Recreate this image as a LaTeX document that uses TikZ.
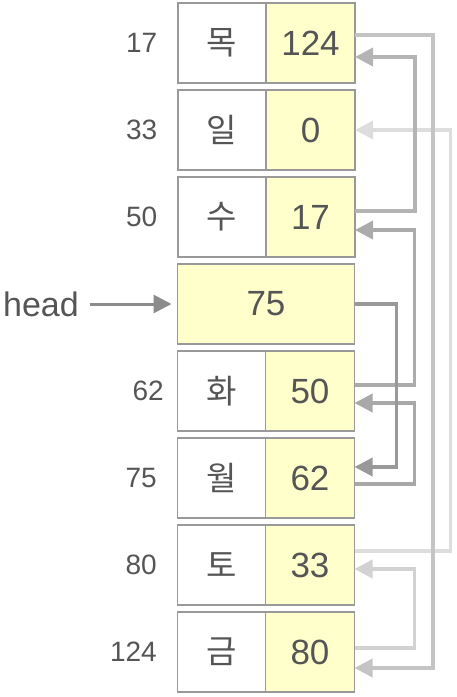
\documentclass[tikz,border=0pt]{standalone}
\usepackage{fontspec}
\setmainfont{Liberation Sans}
\newfontfamily\kofont{Noto Sans CJK KR}
\usetikzlibrary{positioning,arrows.meta}
\definecolor{boxline}{HTML}{999999}
\definecolor{valfill}{HTML}{FFFFCC}
\definecolor{txt}{HTML}{555555}
\definecolor{headgray}{HTML}{8C8C8C}
\definecolor{link1}{HTML}{999999}
\definecolor{link2}{HTML}{A8A8A8}
\definecolor{link3}{HTML}{ABABAB}
\definecolor{link4}{HTML}{B4B4B4}
\definecolor{link5}{HTML}{C4C4C4}
\definecolor{link6}{HTML}{D2D2D2}
\definecolor{link7}{HTML}{DDDDDD}

\begin{document}
\begin{tikzpicture}[
    x = 1pt, y = 1pt,
    > = {Triangle[length=18pt, width=18pt]},
    line width = 1.5pt,
    key/.style={draw=boxline, minimum width=88pt, minimum height=80pt,
        inner sep=0pt, outer sep=0pt, text=txt,
        font=\kofont\fontsize{33}{33}\selectfont},
    val/.style={key, fill=valfill, minimum width=89pt,
        font=\fontsize{35}{35}\selectfont},
    addr/.style={inner sep=0pt, text=txt, font=\fontsize{28}{28}\selectfont},
    link/.style={->, line width=3.5pt}
]
    \useasboundingbox (0,0) rectangle (456,-697);

    % memory cells
    \node[key] (k1) at (222,-43) {목};
    \node[val, right=0pt of k1] (v1) {124};
    \node[key, below=7pt of k1] (k2) {일};
    \node[val, right=0pt of k2] (v2) {0};
    \node[key, below=7pt of k2] (k3) {수};
    \node[val, right=0pt of k3] (v3) {17};
    \node[val, minimum width=177pt, below=7pt of k3.south east] (h) {75};
    \node[key, below=7pt of h.south west, anchor=north west] (k5) {화};
    \node[val, right=0pt of k5] (v5) {50};
    \node[key, below=7pt of k5] (k6) {월};
    \node[val, right=0pt of k6] (v6) {62};
    \node[key, below=7pt of k6] (k7) {토};
    \node[val, right=0pt of k7] (v7) {33};
    \node[key, below=7pt of k7] (k8) {금};
    \node[val, right=0pt of k8] (v8) {80};

    % addresses
    \node[addr, left=20pt of k1] (a1) {17};
    \node[addr, left=20pt of k2] (a2) {33};
    \node[addr, left=20pt of k3] (a3) {50};
    \node[addr, left=13pt of k5] (a5) {62};
    \node[addr, left=20pt of k6] (a6) {75};
    \node[addr, left=20pt of k7] (a7) {80};
    \node[addr, left=20pt of k8] (a8) {124};

    \node[addr, font=\fontsize{34}{34}\selectfont, left=98pt of h] (hd) {head};
    \draw[->, line width=3pt, draw=headgray,
        shorten <=10pt, shorten >=6pt] (hd) -- (h);

    % links
    \draw[link, draw=link7]
        ([yshift=14pt]v7.east) -- ++(96,0) |- (v2.east);
    \draw[link, draw=link6]
        ([yshift=4pt]v8.east) -- ++(60,0) |- ([yshift=-4pt]v7.east);
    \draw[link, draw=link5]
        ([yshift=8pt]v1.east) -- ++(78,0) |- ([yshift=-16pt]v8.east);
    \draw[link, draw=link4]
        ([yshift=6pt]v3.east) -- ++(60,0) |- ([yshift=-14pt]v1.east);
    \draw[link, draw=link3]
        ([yshift=6pt]v5.east) -- ++(60,0) |- ([yshift=-13pt]v3.east);
    \draw[link, draw=link2]
        ([yshift=-6pt]v6.east) -- ++(60,0) |- ([yshift=-12pt]v5.east);
    \draw[link, draw=link1]
        (h.east) -- ++(42,0) |- ([yshift=11pt]v6.east);
\end{tikzpicture}
\end{document}
